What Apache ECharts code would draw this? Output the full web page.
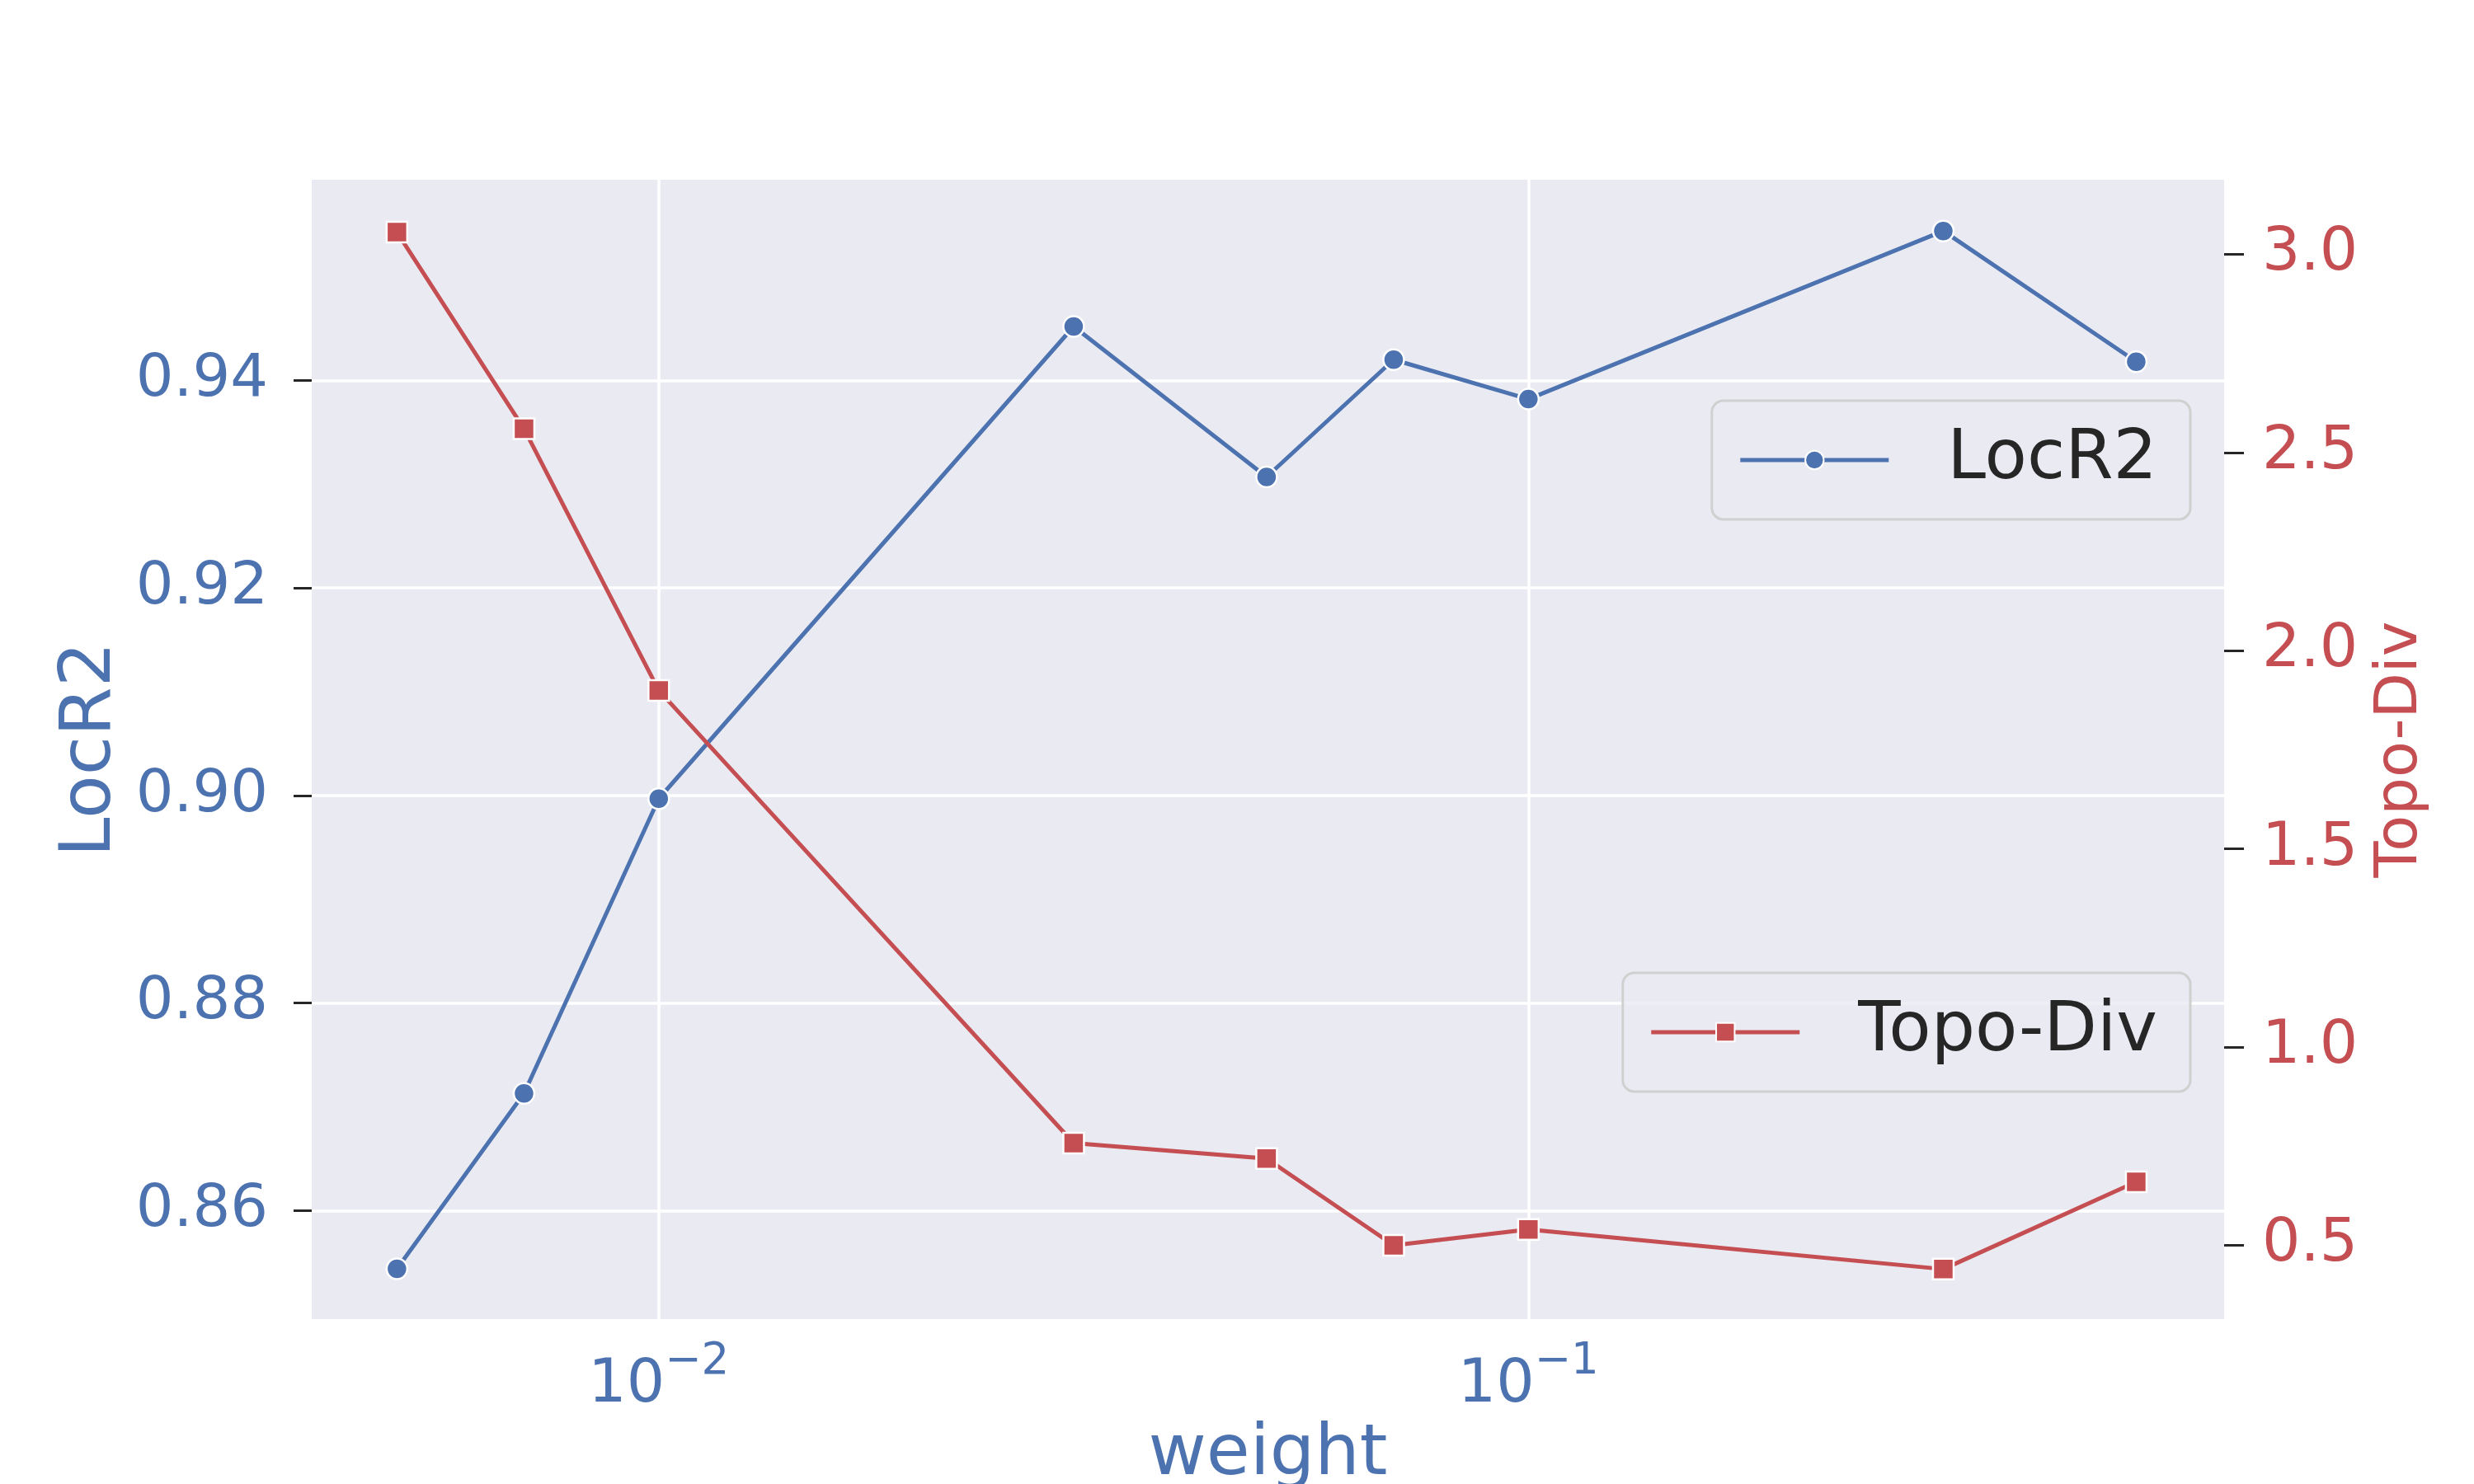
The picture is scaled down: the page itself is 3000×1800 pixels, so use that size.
<!DOCTYPE html>
<html><head><meta charset="utf-8">
<script src="https://cdn.jsdelivr.net/npm/echarts@6/dist/echarts.min.js"></script>
<style>html,body{margin:0;padding:0;background:#fff}#c{width:3000px;height:1800px}</style>
</head><body><div id="c"></div>
<script>
const weights = [0.005, 0.007, 0.01, 0.03, 0.05, 0.07, 0.1, 0.3, 0.5];
const locR2 = [0.8544, 0.8713, 0.8997, 0.9452, 0.9307, 0.9420, 0.9382, 0.9544, 0.9418];
const topoDiv = [3.056, 2.56, 1.90, 0.758, 0.719, 0.50, 0.54, 0.44, 0.66];
const leftTicks = [0.86, 0.88, 0.90, 0.92, 0.94];
const rightTicks = [0.5, 1.0, 1.5, 2.0, 2.5, 3.0];
const xTicks = [0.01, 0.1];

const BLUE = '#4C72B0', RED = '#C44E52', FONT = 'DejaVu Sans';
const chart = echarts.init(document.getElementById('c'), null, {renderer: 'canvas'});
const legendBase = {
  orient: 'vertical', right: 344, itemWidth: 180, itemHeight: 28,
  padding: [30, 40, 30, 32],
  backgroundColor: 'rgba(234,234,242,0.8)', borderColor: '#d0d0d0', borderWidth: 3, borderRadius: 14,
  lineStyle: {width: 5},
  textStyle: {fontFamily: FONT, fontSize: 84, color: '#262626', padding: [0, 0, 0, 66]}
};
chart.setOption({
  animation: false,
  backgroundColor: '#ffffff',
  grid: {left: 378, right: 303, top: 218, bottom: 200, show: true, backgroundColor: '#EAEAF2', borderWidth: 0,
         containLabel: false, outerBoundsMode: 'none'},
  legend: [
    Object.assign({}, legendBase, {data: ['LocR2'], top: 486}),
    Object.assign({}, legendBase, {data: ['Topo-Div'], top: 1180})
  ],
  xAxis: {
    type: 'log', logBase: 10, min: 0.00399, max: 0.631,
    name: 'weight', nameLocation: 'middle', nameGap: 122,
    nameTextStyle: {fontFamily: FONT, fontSize: 86, color: BLUE},
    axisLine: {show: false}, axisTick: {show: false, customValues: xTicks},
    splitLine: {show: true, lineStyle: {color: '#ffffff', width: 3.5}},
    axisLabel: {
      customValues: xTicks, margin: 26,
      formatter: v => '{b|10}{s|\u2212' + Math.abs(Math.round(Math.log10(v))) + '}',
      rich: {
        b: {fontFamily: FONT, fontSize: 73, color: BLUE, lineHeight: 92, verticalAlign: 'bottom'},
        s: {fontFamily: FONT, fontSize: 53, color: BLUE, lineHeight: 60, verticalAlign: 'top'}
      }
    }
  },
  yAxis: [
    {
      type: 'value', position: 'left', min: 0.84955, max: 0.95934,
      name: 'LocR2', nameLocation: 'middle', nameGap: 206, nameRotate: 90,
      nameTextStyle: {fontFamily: FONT, fontSize: 86, color: BLUE},
      axisLine: {show: false},
      axisTick: {show: true, inside: false, length: 22, customValues: leftTicks, lineStyle: {color: '#262626', width: 3}},
      axisLabel: {customValues: leftTicks, margin: 53, fontFamily: FONT, fontSize: 72, color: BLUE, formatter: v => v.toFixed(2)},
      splitLine: {show: true, lineStyle: {color: '#ffffff', width: 3.5}}
    },
    {
      type: 'value', position: 'right', min: 0.3139, max: 3.1882,
      name: 'Topo-Div', nameLocation: 'middle', nameGap: 178, nameRotate: 90,
      nameTextStyle: {fontFamily: FONT, fontSize: 72, color: RED},
      axisLine: {show: false},
      axisTick: {show: true, inside: false, length: 24, customValues: rightTicks, lineStyle: {color: '#262626', width: 3}},
      axisLabel: {customValues: rightTicks, margin: 46, fontFamily: FONT, fontSize: 73, color: RED, formatter: v => v.toFixed(1)},
      splitLine: {show: false}
    }
  ],
  series: [
    {
      name: 'LocR2', type: 'line', yAxisIndex: 0,
      data: weights.map((w, i) => [w, locR2[i]]),
      symbol: 'circle', symbolSize: 25,
      lineStyle: {color: BLUE, width: 5},
      itemStyle: {color: BLUE, borderColor: '#ffffff', borderWidth: 2.5}
    },
    {
      name: 'Topo-Div', type: 'line', yAxisIndex: 1,
      data: weights.map((w, i) => [w, topoDiv[i]]),
      symbol: 'rect', symbolSize: 25,
      lineStyle: {color: RED, width: 5},
      itemStyle: {color: RED, borderColor: '#ffffff', borderWidth: 2.5}
    }
  ]
});
</script>
</body></html>
